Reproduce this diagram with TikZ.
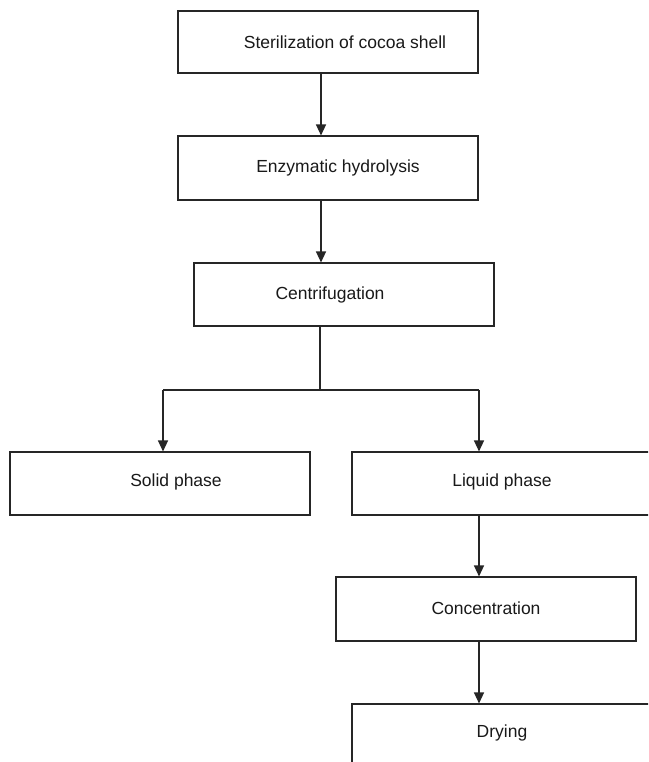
\documentclass[tikz,border=0pt]{standalone}
\usepackage{fontspec}
\setmainfont{Liberation Sans}
\usetikzlibrary{arrows.meta}
\begin{document}
\begin{tikzpicture}[x=1pt,y=-1pt,
  box/.style={draw=black!85, line width=1.1pt, inner sep=0pt},
  lbl/.style={font=\fontsize{17.5}{20}\selectfont, inner sep=0pt, text=black!90},
  arr/.style={draw=black!85, line width=1.3pt, -{Triangle[width=10pt,length=11pt]}},
  ln/.style={draw=black!85, line width=1.2pt}]
\clip (0,0) rectangle (648,762);
\fill[white] (0,0) rectangle (648,762);
% boxes
\node[box, minimum width=300pt, minimum height=62pt] (b1) at (328,42) {};
\node[box, minimum width=300pt, minimum height=64pt] (b2) at (328,168) {};
\node[box, minimum width=300pt, minimum height=63pt] (b3) at (344,294.5) {};
\node[box, minimum width=300pt, minimum height=63pt] (b4) at (160,483.5) {};
\node[box, minimum width=300pt, minimum height=63pt] (b5) at (502,483.5) {};
\node[box, minimum width=300pt, minimum height=64pt] (b6) at (486,609) {};
\node[box, minimum width=300pt, minimum height=120pt] (b7) at (502,764) {};
% labels
\node[lbl] (t1) at (345,42) {Sterilization of cocoa shell};
\node[lbl] (t2) at (338,168) {Enzymatic hydrolysis};
\node[lbl] (t3) at (330,294.5) {Centrifugation};
\node[lbl] (t4) at (176,482) {Solid phase};
\node[lbl] (t5) at (502,482) {Liquid phase};
\node[lbl] (t6) at (486,608) {Concentration};
\node[lbl] (t7) at (502,733) {Drying};
% connectors
\coordinate (a) at (321,0);
\coordinate (j) at (320,390);
\coordinate (jl) at (163,390);
\coordinate (jr) at (479,390);
\draw[arr] (a |- b1.south) -- (a |- b2.north);
\draw[arr] (a |- b2.south) -- (a |- b3.north);
\draw[ln] (j |- b3.south) -- (j);
\draw[ln] (jl) -- (jr);
\draw[arr] (jl) -- (jl |- b4.north);
\draw[arr] (jr) -- (jr |- b5.north);
\draw[arr] (jr |- b5.south) -- (jr |- b6.north);
\draw[arr] (jr |- b6.south) -- (jr |- b7.north);
\end{tikzpicture}
\end{document}
